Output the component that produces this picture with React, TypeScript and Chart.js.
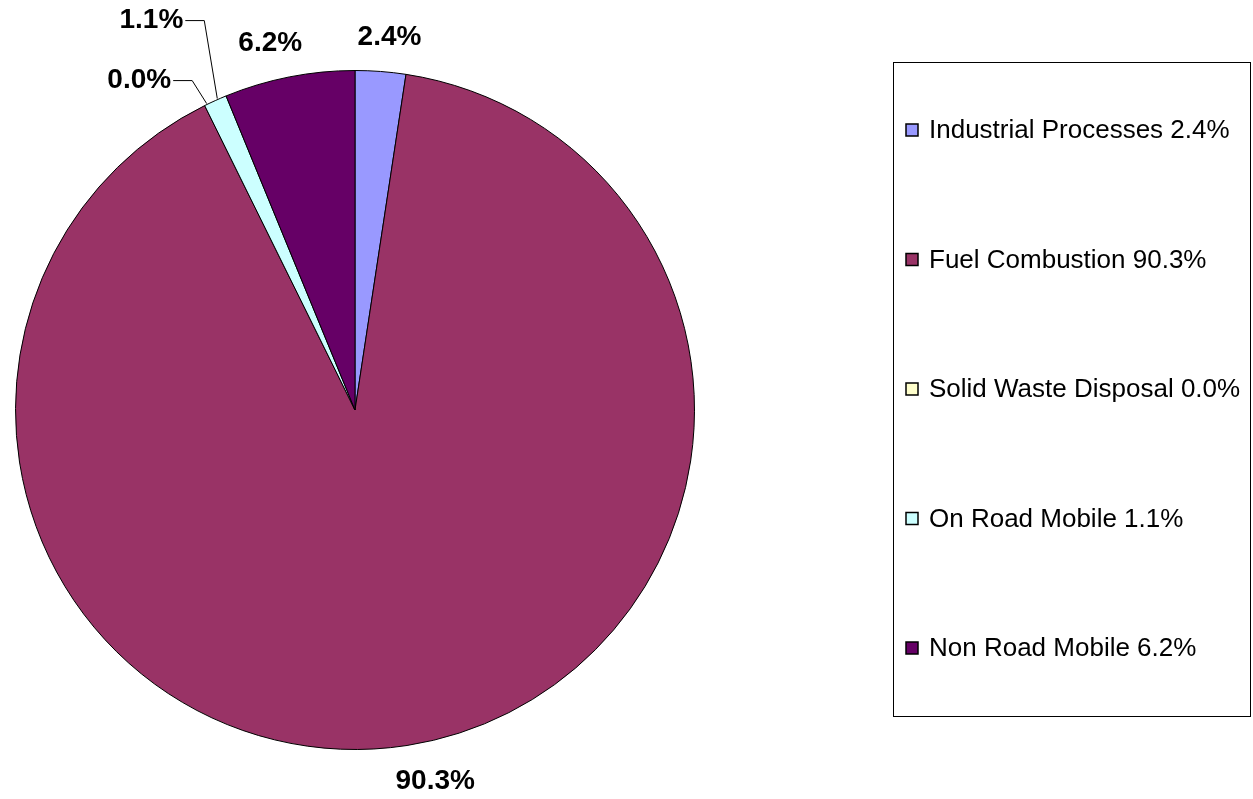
import React, { useEffect, useRef } from "react";
import { Chart, registerables } from "chart.js";

Chart.register(...registerables);

const categories = [
  "Industrial Processes",
  "Fuel Combustion",
  "Solid Waste Disposal",
  "On Road Mobile",
  "Non Road Mobile",
];
const shares = [2.4, 90.3, 0.0, 1.1, 6.2];
const colors = ["#9999FF", "#993366", "#FFFFCC", "#CCFFFF", "#660066"];

const FONT = "'Liberation Sans', Arial, sans-serif";

const labelPlugin = {
  id: "excelLabels",
  afterDraw(chart: any) {
    const ctx = chart.ctx as CanvasRenderingContext2D;
    const meta = chart.getDatasetMeta(0);
    const data = chart.data.datasets[0].data as number[];
    ctx.save();
    ctx.font = `bold 28px ${FONT}`;
    ctx.fillStyle = "#000";
    ctx.textBaseline = "middle";
    const nudges: Record<number, [number, number]> = { 0: [5, 0], 1: [19, 2], 4: [-9, 0] };
    const leaders: Record<number, [number, number]> = { 3: [-11, -80], 2: [-12.5, -25] };
    meta.data.forEach((arc: any, i: number) => {
      const { x, y, startAngle, endAngle, outerRadius } = arc.getProps(
        ["x", "y", "startAngle", "endAngle", "outerRadius"],
        true
      );
      const text = `${data[i].toFixed(1)}%`;
      const w = ctx.measureText(text).width;
      if (leaders[i]) {
        const a = (startAngle + endAngle) / 2;
        const ex = x + Math.cos(a) * outerRadius;
        const ey = y + Math.sin(a) * outerRadius;
        const bx = ex + leaders[i][0];
        const by = ey + leaders[i][1];
        ctx.strokeStyle = "#000";
        ctx.lineWidth = 1;
        ctx.beginPath();
        ctx.moveTo(ex + 2, ey - 2);
        ctx.lineTo(bx, by);
        ctx.lineTo(bx - 19, by);
        ctx.stroke();
        ctx.textAlign = "right";
        ctx.fillText(text, bx - 21, by);
        return;
      }
      const a = (startAngle + endAngle) / 2;
      const r = outerRadius + 20;
      const ax = x + Math.cos(a) * r;
      const ay = y + Math.sin(a) * r;
      const cx = ax + Math.cos(a) * (w / 2) + (nudges[i] ? nudges[i][0] : 0);
      const cy = ay + Math.sin(a) * 14 + (nudges[i] ? nudges[i][1] : 0);
      ctx.textAlign = "center";
      ctx.fillText(text, cx, cy);
    });

    // Legend box
    const lx = 893.5, ly = 62.5, lw = 357, lh = 654;
    ctx.strokeStyle = "#000";
    ctx.lineWidth = 1;
    ctx.strokeRect(lx, ly, lw, lh);
    ctx.font = `26px ${FONT}`;
    ctx.textAlign = "left";
    const step = 129.5;
    chart.data.labels.forEach((lab: string, i: number) => {
      const cy = 130 + i * step;
      ctx.fillStyle = colors[i];
      ctx.fillRect(906, cy - 6, 12, 12);
      ctx.lineWidth = 1.5;
      ctx.strokeRect(906, cy - 6, 12, 12);
      ctx.fillStyle = "#000";
      ctx.fillText(`${lab} ${data[i].toFixed(1)}%`, 929, cy + 1);
    });
    ctx.restore();
  },
};

export default function App() {
  const ref = useRef<HTMLCanvasElement>(null);
  useEffect(() => {
    document.body.style.margin = "0";
    const chart = new Chart(ref.current!, {
      type: "pie",
      data: {
        labels: categories,
        datasets: [
          {
            data: shares,
            backgroundColor: colors,
            borderColor: "#000",
            borderWidth: 1,
          },
        ],
      },
      options: {
        animation: false,
        responsive: false,
        layout: { padding: { left: 15, right: 558, top: 70, bottom: 49 } },
        plugins: { legend: { display: false }, tooltip: { enabled: false } },
      },
      plugins: [labelPlugin],
    });
    return () => chart.destroy();
  }, []);
  return (
    <div style={{ width: 1253, height: 799, background: "#fff" }}>
      <canvas ref={ref} width={1253} height={799} style={{ display: "block" }} />
    </div>
  );
}
